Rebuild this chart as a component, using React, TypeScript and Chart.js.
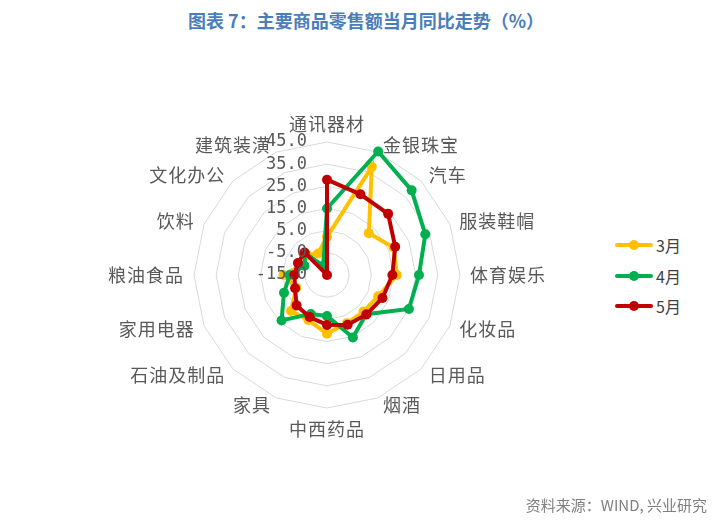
import React, { useEffect, useRef } from 'react';
import { Chart, registerables } from 'chart.js';

Chart.register(...registerables);

const categories = ['通讯器材', '金银珠宝', '汽车', '服装鞋帽', '体育娱乐', '化妆品', '日用品', '烟酒', '中西药品', '家具', '石油及制品', '家用电器', '粮油食品', '饮料', '文化办公', '建筑装潢'];
const march = [2.2, 37.8, 11.7, 17.5, 16.5, 10.0, 8.3, 8.5, 11.5, 7.0, 8.0, 0.0, 4.6, -3.0, -2.5, -4.5];
const april = [15.0, 45.3, 39.0, 33.0, 26.5, 25.0, 10.0, 15.5, 3.5, 4.0, 14.0, 6.0, 1.8, -4.0, -1.0, -10.5];
const may = [28.0, 24.4, 24.0, 18.3, 14.5, 12.1, 10.2, 9.3, 7.5, 5.5, 4.4, 0.6, -0.3, -0.8, -0.6, -15.0];
const seriesNames = ['3月', '4月', '5月'];
const seriesColors = ['#FFC000', '#00B050', '#C00000'];
const tickValues = [-15, -5, 5, 15, 25, 35, 45];

const titleText = '图表 7：主要商品零售额当月同比走势（%）';
const sourceText = '资料来源：WIND, 兴业研究';

const tickLabelPlugin = {
  id: 'tickLabels',
  afterDatasetsDraw(chart: any) {
    const scale = chart.scales.r;
    const ctx = chart.ctx;
    ctx.save();
    ctx.font = "17px 'DejaVu Sans Mono'";
    ctx.fillStyle = '#595959';
    ctx.textAlign = 'right';
    ctx.textBaseline = 'middle';
    tickValues.forEach((v) => {
      const d = scale.getDistanceFromCenterForValue(v);
      ctx.fillText(v.toFixed(1), scale.xCenter - 20, scale.yCenter - d);
    });
    ctx.restore();
  },
};

const categoryLabelPlugin = {
  id: 'categoryLabels',
  afterDraw(chart: any) {
    const scale = chart.scales.r;
    const ctx = chart.ctx;
    ctx.save();
    ctx.font = "18px 'Noto Sans CJK SC'";
    ctx.fillStyle = '#595959';
    try { (ctx as any).letterSpacing = '1px'; } catch (e) { /* ignore */ }
    const n = categories.length;
    categories.forEach((label, i) => {
      const deg = (360 / n) * i;
      const pos = scale.getPointPosition(i, scale.drawingArea + 8);
      let align: CanvasTextAlign = 'center';
      let baseline: CanvasTextBaseline = 'middle';
      let x = pos.x;
      let y = pos.y;
      if (deg === 0) {
        baseline = 'bottom';
        y -= 1;
      } else if (deg === 180) {
        baseline = 'top';
        y += 4;
      } else if (deg < 180) {
        align = 'left';
        x += 2;
      } else {
        align = 'right';
        x -= 2;
      }
      ctx.textAlign = align;
      ctx.textBaseline = baseline;
      ctx.fillText(label, x, y);
    });
    ctx.restore();
  },
};

export default function App() {
  const canvasRef = useRef<HTMLCanvasElement | null>(null);

  useEffect(() => {
    if (!canvasRef.current) return;
    const seriesData = [march, april, may];
    const chart = new Chart(canvasRef.current, {
      type: 'radar',
      data: {
        labels: categories,
        datasets: seriesNames.map((name, i) => ({
          label: name,
          data: seriesData[i],
          borderColor: seriesColors[i],
          backgroundColor: seriesColors[i],
          pointBackgroundColor: seriesColors[i],
          pointBorderColor: seriesColors[i],
          pointRadius: 5,
          pointBorderWidth: 0,
          borderWidth: 4,
          fill: false,
          order: 2 - i,
        })),
      },
      options: {
        responsive: false,
        animation: false,
        layout: { padding: { left: 134, right: 134, top: 117, bottom: 117 } },
        plugins: {
          legend: { display: false },
          tooltip: { enabled: false },
        },
        scales: {
          r: {
            min: -15,
            max: 45,
            ticks: { stepSize: 10, display: false },
            grid: { color: '#d9d9d9', lineWidth: 1, circular: false },
            angleLines: { display: false },
            pointLabels: { display: false },
          },
        },
      },
      plugins: [tickLabelPlugin, categoryLabelPlugin],
    });
    return () => chart.destroy();
  }, []);

  return (
    <div style={{ position: 'absolute', left: 0, top: 0, width: 725, height: 529, background: '#fff', fontFamily: "'Noto Sans CJK SC', sans-serif" }}>
      <div style={{ position: 'absolute', left: 188, top: 7, fontSize: 18, fontWeight: 'bold', color: '#4A7EBB', whiteSpace: 'nowrap', lineHeight: '26px' }}>
        {titleText}
      </div>
      <canvas ref={canvasRef} width={534} height={500} style={{ position: 'absolute', left: 60, top: 25, width: 534, height: 500 }} />
      {seriesNames.map((name, i) => (
        <div key={name} style={{ position: 'absolute', left: 615, top: 245 + i * 30.5 - 12, height: 24, width: 100 }}>
          <div style={{ position: 'absolute', left: 0, top: 10, width: 38, height: 4, background: seriesColors[i], borderRadius: 2 }} />
          <div style={{ position: 'absolute', left: 14, top: 7, width: 10, height: 10, borderRadius: 5, background: seriesColors[i] }} />
          <div style={{ position: 'absolute', left: 41, top: 0, fontSize: 16, lineHeight: '24px', color: '#404040', whiteSpace: 'nowrap' }}>{name}</div>
        </div>
      ))}
      <div style={{ position: 'absolute', right: 18, top: 494, fontSize: 15, color: '#7f7f7f', whiteSpace: 'nowrap', lineHeight: '22px' }}>
        {sourceText}
      </div>
    </div>
  );
}
